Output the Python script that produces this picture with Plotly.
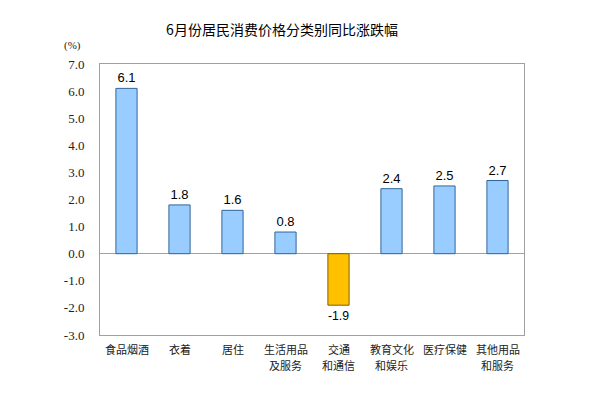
import plotly.graph_objects as go

categories = ["食品烟酒", "衣着", "居住", "生活用品\n及服务", "交通\n和通信", "教育文化\n和娱乐", "医疗保健", "其他用品\n和服务"]
values = [6.1, 1.8, 1.6, 0.8, -1.9, 2.4, 2.5, 2.7]
tick_vals = [-3, -2, -1, 0, 1, 2, 3, 4, 5, 6, 7]
tick_text = ["-3.0", "-2.0", "-1.0", "0.0", "1.0", "2.0", "3.0", "4.0", "5.0", "6.0", "7.0"]

colors = ["#FFC000" if v < 0 else "#99CCFF" for v in values]
line_colors = ["#7F6000" if v < 0 else "#336699" for v in values]

W, H = 590, 391
PH = 271
fig = go.Figure()
fig.add_trace(go.Bar(
    x=list(range(len(categories))), y=values,
    marker=dict(color=colors, line=dict(color=line_colors, width=1)),
    width=0.4,
    text=[f"{v:.1f}" for v in values],
    textposition="outside",
    textfont=dict(family="Liberation Sans", size=13, color="black"),
    cliponaxis=False,
))

annotations = []
for i, cat in enumerate(categories):
    for j, line in enumerate(cat.split("\n")):
        annotations.append(dict(
            text=line, x=i, xref="x", yref="paper", y=-(14 + 16 * j) / PH,
            xanchor="center", yanchor="middle", showarrow=False,
            font=dict(family="Noto Sans CJK SC", size=11, color="#222222")))
annotations.append(dict(text="(%)", xref="paper", yref="paper", x=(64 - 92) / 424, y=1 + (56 - 37) / PH,
                        xanchor="center", yanchor="middle", showarrow=False,
                        font=dict(family="Liberation Serif", size=11, color="#222222")))

fig.update_layout(
    width=W, height=H,
    margin=dict(l=92, r=74, t=56, b=64, autoexpand=False),
    paper_bgcolor="white", plot_bgcolor="white",
    showlegend=False,
    title=dict(text="6月份居民消费价格分类别同比涨跌幅", x=274 / W, xanchor="center", y=1 - 22 / H, yanchor="middle",
               font=dict(family="Noto Sans CJK SC", size=14, color="black")),
    xaxis=dict(
        range=[-0.5, len(categories) - 0.5], automargin=False, showticklabels=False,
        showline=True, linecolor="#A0A0A0", mirror=True, linewidth=1,
        showgrid=False, zeroline=False, ticks="",
    ),
    yaxis=dict(
        range=[-3, 7], tickmode="array", tickvals=tick_vals, ticktext=tick_text,
        showline=True, linecolor="#A0A0A0", mirror=True, linewidth=1, automargin=False,
        showgrid=False, zeroline=True, zerolinecolor="#A0A0A0", zerolinewidth=1,
        ticks="", ticklabelstandoff=12,
        tickfont=dict(family="Liberation Serif", size=13, color="#222222"),
    ),
    annotations=annotations,
)

fig.write_html("out.html")
